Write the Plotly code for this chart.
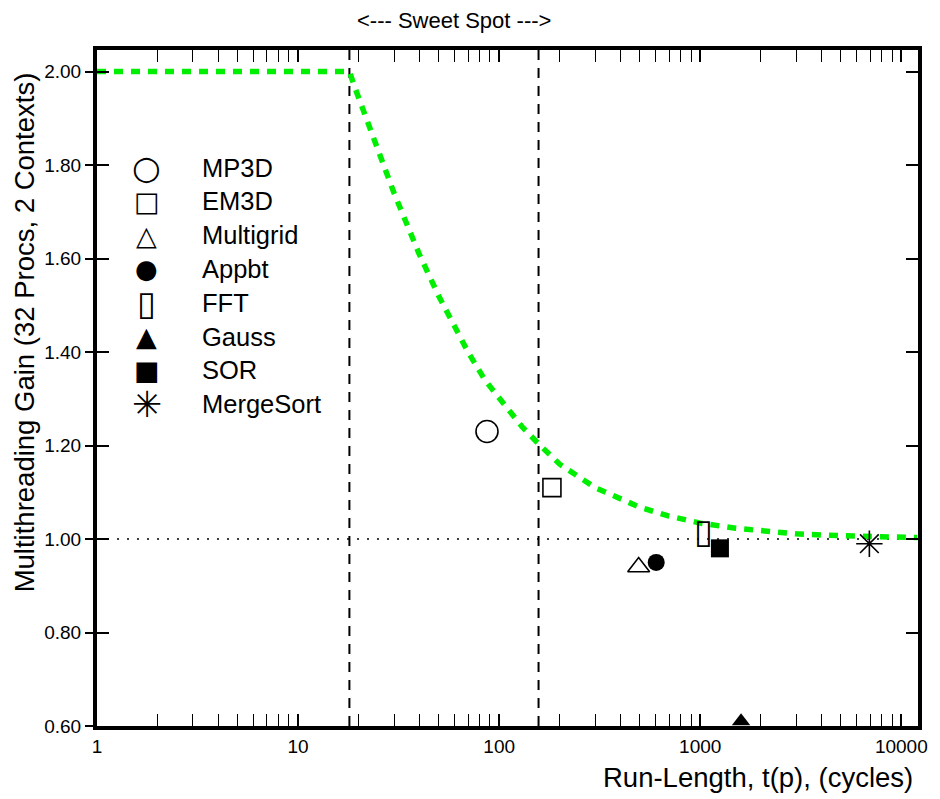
import plotly.graph_objects as go

# ---------------- data ----------------
benchmarks = ["MP3D", "EM3D", "Multigrid", "Appbt", "FFT", "Gauss", "SOR", "MergeSort"]
run_length = [87, 183, 494, 604, 1036, 1596, 1253, 6937]
gain = [1.23, 1.11, 0.94, 0.95, 1.01, 0.61, 0.98, 0.99]

model_run_length = [1, 18, 19, 20, 25, 30, 40, 50, 60, 70, 85, 100, 130, 160, 200,
                    300, 400, 500, 700, 1000, 1500, 2000, 3000, 5000, 8000, 12000]
model_gain = [2.00, 2.00, 1.97, 1.945, 1.83, 1.74, 1.61, 1.52, 1.455, 1.40, 1.34, 1.30,
              1.24, 1.20, 1.16, 1.11, 1.085, 1.068, 1.049, 1.034, 1.023, 1.017,
              1.011, 1.007, 1.004, 1.003]

sweet_spot_bounds = [18, 157]
baseline_gain = 1.0

x_tick_vals = [1, 10, 100, 1000, 10000]
x_tick_text = ["1", "10", "100", "1000", "10000"]
x_minor_vals = [d * 10 ** k for k in range(4) for d in range(2, 10)]
y_tick_vals = [0.6, 0.8, 1.0, 1.2, 1.4, 1.6, 1.8, 2.0]
y_tick_text = ["0.60", "0.80", "1.00", "1.20", "1.40", "1.60", "1.80", "2.00"]

# ---------------- styles ----------------
marker_styles = {
    "MP3D": dict(symbol="circle-open", size=22, line=dict(width=1.6, color="black"), color="black"),
    "EM3D": dict(symbol="square-open", size=18, line=dict(width=1.6, color="black"), color="black"),
    "Multigrid": dict(symbol="triangle-up-open", size=19, line=dict(width=1.6, color="black"), color="black"),
    "Appbt": dict(symbol="circle", size=17, color="black"),
    "Gauss": dict(symbol="triangle-up", size=16, color="black"),
    "SOR": dict(symbol="square", size=18, color="black"),
    "MergeSort": dict(symbol="asterisk-open", size=22, line=dict(width=1.6, color="black"), color="black"),
}
legend_glyphs = {"MP3D": ("○", 33), "EM3D": ("□", 27), "Multigrid": ("△", 27),
                 "Appbt": ("●", 26), "FFT": ("▯", 34), "Gauss": ("▲", 27),
                 "SOR": ("■", 27), "MergeSort": ("✳", 36)}

# page geometry (browser body has an 8px margin)
OFF = 8
W, H = 940 - OFF, 799 - OFF
L, R, T, B = 97 - OFF, 18, 50 - OFF, 73
PW, PH = W - L - R, H - T - B


def xp(px):
    """page pixel x -> paper coordinate"""
    return (px - OFF - L) / PW


def yp(py):
    """page pixel y -> paper coordinate"""
    return (OFF + H - B - py) / PH


fig = go.Figure()

# model curve
fig.add_trace(go.Scatter(
    x=model_run_length, y=model_gain, mode="lines",
    line=dict(color="#00ee00", width=5.5, dash="9px,8px"),
    hoverinfo="skip", showlegend=False))

# benchmark points
for name, xv, yv in zip(benchmarks, run_length, gain):
    if name == "FFT":
        fig.add_trace(go.Scatter(
            x=[xv], y=[yv], mode="text", text=["▯"],
            textfont=dict(family="DejaVu Sans", size=34, color="black"),
            name=name, showlegend=False))
    else:
        fig.add_trace(go.Scatter(
            x=[xv], y=[yv], mode="markers", marker=marker_styles[name],
            name=name, showlegend=False))

# helper trace for the secondary y axis (mirrored inside ticks)
fig.add_trace(go.Scatter(x=[None], y=[None], yaxis="y2", showlegend=False, hoverinfo="skip"))

# sweet-spot bounds and baseline
for b in sweet_spot_bounds:
    fig.add_vline(x=b, line=dict(color="black", width=2, dash="10px,8px"), layer="below")
fig.add_hline(y=baseline_gain, line=dict(color="black", width=1.6, dash="2px,8px"), layer="below")

# custom legend
row0, step = 167.5, 33.8
for i, name in enumerate(benchmarks):
    ypix = row0 + i * step
    glyph, gsize = legend_glyphs[name]
    fig.add_annotation(x=xp(147), y=yp(ypix), xref="paper", yref="paper",
                       text=glyph, showarrow=False,
                       font=dict(family="DejaVu Sans", size=gsize, color="black"),
                       xanchor="center", yanchor="middle")
    fig.add_annotation(x=xp(201), y=yp(ypix), xref="paper", yref="paper",
                       text=name, showarrow=False,
                       font=dict(family="Liberation Sans", size=25.5, color="black"),
                       xanchor="left", yanchor="middle")

# titles
fig.add_annotation(x=xp(919), y=yp(777), xref="paper", yref="paper",
                   text="Run-Length, t(p), (cycles)", showarrow=False,
                   font=dict(family="Liberation Sans", size=27.5, color="black"),
                   xanchor="right", yanchor="middle")
fig.add_annotation(x=xp(24), y=yp(332), xref="paper", yref="paper",
                   text="Multithreading Gain (32 Procs, 2 Contexts)", showarrow=False,
                   textangle=-90,
                   font=dict(family="Liberation Sans", size=27.5, color="black"),
                   xanchor="center", yanchor="middle")
fig.add_annotation(x=xp(456), y=yp(21), xref="paper", yref="paper",
                   text="&lt;--- Sweet Spot ---&gt;", showarrow=False,
                   font=dict(family="Liberation Sans", size=22, color="black"),
                   xanchor="center", yanchor="middle")

yrange = [0.6, 2.046]
fig.update_layout(
    width=W, height=H,
    margin=dict(l=L, r=R, t=T, b=B, pad=0),
    plot_bgcolor="white", paper_bgcolor="white",
    showlegend=False,
    font=dict(family="Liberation Sans", color="black"),
    xaxis=dict(
        type="log", range=[0, 4.083],
        tickmode="array", tickvals=x_tick_vals, ticktext=x_tick_text,
        ticks="inside", ticklen=12, tickwidth=1.5, tickcolor="black",
        minor=dict(tickmode="array", tickvals=x_minor_vals, ticks="inside",
                   ticklen=8, tickwidth=1.2, tickcolor="black", showgrid=False),
        showline=True, linewidth=4, linecolor="black", mirror="allticks",
        showgrid=False, zeroline=False,
        tickfont=dict(size=19, family="Liberation Sans", color="black"),
    ),
    yaxis=dict(
        range=yrange, tickmode="array", tickvals=y_tick_vals, ticktext=y_tick_text,
        ticks="outside", ticklen=8, tickwidth=1.5, tickcolor="black",
        showline=True, linewidth=4, linecolor="black", mirror=True,
        showgrid=False, zeroline=False,
        tickfont=dict(size=19, family="Liberation Sans", color="black"),
    ),
    yaxis2=dict(
        range=yrange, overlaying="y", side="right", anchor="x",
        tickmode="array", tickvals=y_tick_vals, showticklabels=False,
        ticks="inside", ticklen=12, tickwidth=1.5, tickcolor="black",
        showline=True, linewidth=4, linecolor="black", mirror="allticks",
        showgrid=False, zeroline=False,
    ),
)

fig.write_html("out.html")
